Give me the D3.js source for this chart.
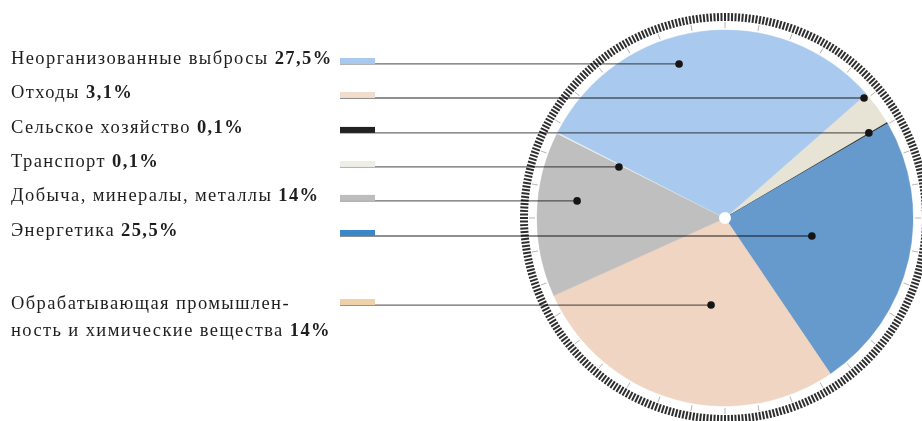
<!doctype html>
<html lang="ru">
<head>
<meta charset="UTF-8">
<title>Выбросы по отраслям</title>
<script src="https://d3js.org/d3.v7.min.js"></script>
<style>
  body { margin: 0; background: #fff; }
  .label { font-family: "Liberation Serif", "Times New Roman", serif; font-size: 18.5px; letter-spacing: 1.4px; fill: #1e1e1e; }
  .label .pct { font-weight: bold; }
  .leader { stroke: #6a6a6a; stroke-width: 1.3; mix-blend-mode: multiply; }
</style>
</head>
<body>
<div id="chart"></div>
<script>
// legend order (top to bottom)
var categories = [
  ["Неорганизованные выбросы"],
  ["Отходы"],
  ["Сельское хозяйство"],
  ["Транспорт"],
  ["Добыча, минералы, металлы"],
  ["Энергетика"],
  ["Обрабатывающая промышлен-", "ность и химические вещества"]
];
var labelValues = ["27,5%", "3,1%", "0,1%", "0,1%", "14%", "25,5%", "14%"];
// share of the circle each slice takes, as drawn (percent)
var sliceShares = [31.0, 3.0, 0.1, 0.1, 14.2, 23.9, 27.7];
// clockwise drawing order of the slices, and where the first one starts (degrees from 12 o'clock)
var pieOrder = [1, 2, 5, 6, 4, 3, 0];
var pieStart = 48.7;
// where each leader line ends: angle (deg) and fraction of radius
var dotAngle = [343.4, 49.2, 59.4, 295.7, 276.6, 101.7, 189.1];
var dotRadius = [0.855, 0.977, 0.889, 0.626, 0.792, 0.472, 0.469];

var sliceColors  = ["#a9caee", "#e7e4d5", "#222222", "#f1f1ed", "#bfbfbf", "#6699cc", "#efd5c2"];
var swatchColors = ["#a9caee", "#f1ddcd", "#222222", "#eeede6", "#bdbdbd", "#3a86c8", "#efd0a9"];

var width = 922, height = 421;
var cx = 725, cy = 218, R = 188;

var svg = d3.select("#chart")
    .append("svg")
    .attr("width", width)
    .attr("height", height);

var deg = d3.scaleLinear().domain([0, 360]).range([0, 2 * Math.PI]);
var rad = d3.scaleLinear().domain([0, 1]).range([0, R]);

var pieG = svg.append("g").attr("transform", "translate(" + cx + "," + cy + ")");

// ring of fine hash marks
pieG.selectAll(".hash")
    .data(d3.range(0, 360, 1))
    .enter().append("line")
    .attr("class", "hash")
    .attr("x1", function(d) { return Math.sin(deg(d)) * 197; })
    .attr("y1", function(d) { return -Math.cos(deg(d)) * 197; })
    .attr("x2", function(d) { return Math.sin(deg(d)) * 205; })
    .attr("y2", function(d) { return -Math.cos(deg(d)) * 205; })
    .attr("stroke", "#2e2e2e")
    .attr("stroke-width", 2);

// major ticks every 10 degrees
pieG.selectAll(".major")
    .data(d3.range(0, 360, 10))
    .enter().append("line")
    .attr("class", "major")
    .attr("x1", function(d) { return Math.sin(deg(d)) * 190; })
    .attr("y1", function(d) { return -Math.cos(deg(d)) * 190; })
    .attr("x2", function(d) { return Math.sin(deg(d)) * 196; })
    .attr("y2", function(d) { return -Math.cos(deg(d)) * 196; })
    .attr("stroke", "#b5b5b5")
    .attr("stroke-width", 1);

var pie = d3.pie()
    .sort(null)
    .value(function(i) { return sliceShares[i]; })
    .startAngle(deg(pieStart))
    .endAngle(deg(pieStart + 360));

var arc = d3.arc().innerRadius(0).outerRadius(R);

pieG.selectAll(".slice")
    .data(pie(pieOrder))
    .enter().append("path")
    .attr("class", "slice")
    .attr("d", arc)
    .attr("fill", function(d) { return sliceColors[d.data]; })
    .attr("stroke", function(d) { return sliceColors[d.data]; })
    .attr("stroke-width", 0.5);

pieG.append("circle").attr("r", 6).attr("fill", "#fff");

// legend + leader lines
var rows = categories.map(function(c, i) {
  var a = deg(dotAngle[i]), r = rad(dotRadius[i]);
  return { i: i, x: cx + Math.sin(a) * r, y: cy - Math.cos(a) * r };
});

var swX = 340, swW = 35, swH = 6;

svg.selectAll(".leader")
    .data(rows)
    .enter().append("line")
    .attr("class", "leader")
    .attr("x1", swX)
    .attr("x2", function(d) { return d.x; })
    .attr("y1", function(d) { return d.y; })
    .attr("y2", function(d) { return d.y; });

svg.selectAll(".swatch")
    .data(rows)
    .enter().append("rect")
    .attr("class", "swatch")
    .attr("x", swX)
    .attr("y", function(d) { return d.y - swH; })
    .attr("width", swW)
    .attr("height", swH)
    .attr("fill", function(d) { return swatchColors[d.i]; });

svg.selectAll(".dot")
    .data(rows)
    .enter().append("circle")
    .attr("class", "dot")
    .attr("cx", function(d) { return d.x; })
    .attr("cy", function(d) { return d.y; })
    .attr("r", 3.8)
    .attr("fill", "#151515");

rows.forEach(function(d) {
  var lines = categories[d.i];
  var t = svg.append("text")
      .attr("class", "label")
      .attr("x", 11)
      .attr("y", d.y + (lines.length > 1 ? 4 : 0));
  lines.forEach(function(line, k) {
    var last = k === lines.length - 1;
    t.append("tspan")
        .attr("x", 11)
        .attr("dy", k === 0 ? 0 : 27)
        .text(line + (last ? " " : ""));
    if (last) {
      t.append("tspan").attr("class", "pct").text(labelValues[d.i]);
    }
  });
});
</script>
</body>
</html>
